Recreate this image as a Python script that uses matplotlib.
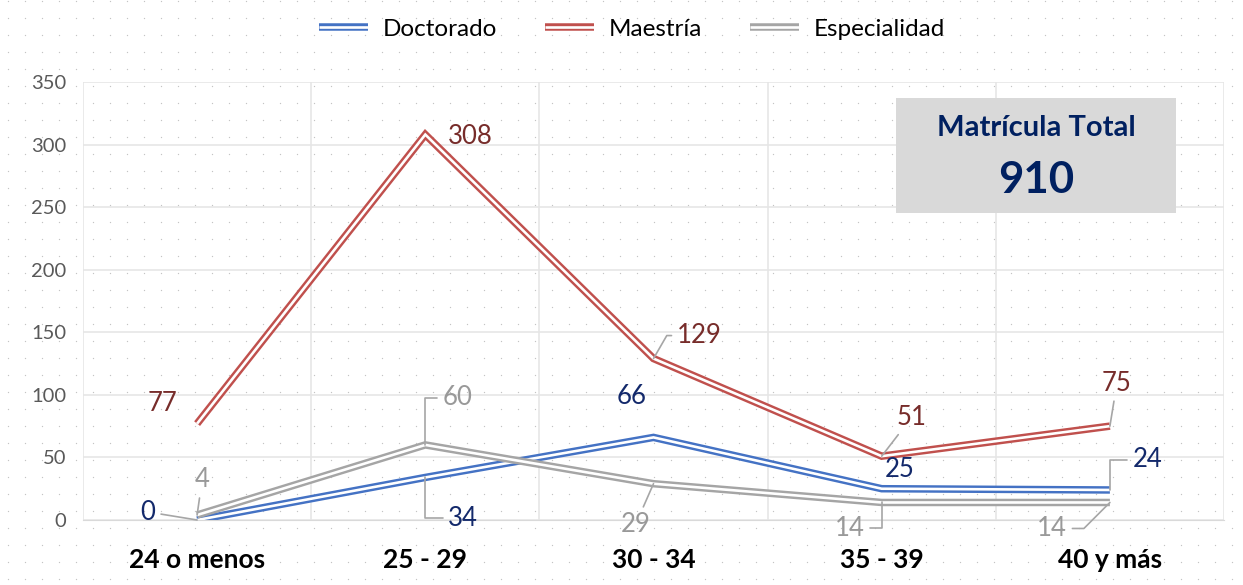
import numpy as np
import matplotlib.pyplot as plt
import matplotlib.patheffects as pe
from matplotlib.lines import Line2D

plt.rcParams['font.family'] = ['Lato', 'DejaVu Sans']

categorias = ['24 o menos', '25 - 29', '30 - 34', '35 - 39', '40 y más']
doctorado = [0, 34, 66, 25, 24]
maestria = [77, 308, 129, 51, 75]
especialidad = [4, 60, 29, 14, 14]
total = 910

# colores: linea, etiqueta
series = [
    ('Doctorado', doctorado, '#4472C4', '#13296B'),
    ('Maestría', maestria, '#C0504D', '#772C2A'),
    ('Especialidad', especialidad, '#A5A5A5', '#999999'),
]

# offsets de etiquetas en pixeles (dx, dy, leader, conexion)
offsets = {
    'Doctorado': [(-49, 8, True, 'arc3'), (38, -41, True, 'angle,angleA=0,angleB=90,rad=0'),
                  (-22, 41, False, None), (18, 19, False, None),
                  (38, 30, True, 'angle,angleA=0,angleB=90,rad=0')],
    'Maestría': [(-35, 20, False, None), (45, -2, False, None),
                 (46, 23, True, 'angle,angleA=0,angleB=60,rad=0'), (30, 39, True, 'arc3'),
                 (7, 43, True, 'arc3')],
    'Especialidad': [(5, 35, True, 'arc3'), (32, 47, True, 'angle,angleA=0,angleB=90,rad=0'),
                     (-18, -41, True, 'arc3'), (-32, -26, True, 'angle,angleA=0,angleB=90,rad=0'),
                     (-58, -26, True, 'angle,angleA=0,angleB=45,rad=0')],
}

fig = plt.figure(figsize=(12.43, 5.85), dpi=100)

# fondo punteado
bg = fig.add_axes([0, 0, 1, 1], zorder=-5)
gx, gy = np.meshgrid(np.arange(8, 1243, 17), np.arange(6, 585, 17))
bg.scatter(gx.ravel(), gy.ravel(), s=0.9, color='#C4C4C4', linewidths=0)
bg.set_xlim(0, 1243)
bg.set_ylim(0, 585)
bg.axis('off')

ax = fig.add_axes([83 / 1243, 65 / 585, 1141 / 1243, 438 / 585])
ax.set_facecolor('none')
x = np.arange(len(categorias))

def doble(c):
    return [pe.Stroke(linewidth=5.4, foreground=c, capstyle='butt'),
            pe.Stroke(linewidth=1.9, foreground='white', capstyle='butt')]

for nombre, vals, c, ct in series:
    ax.plot(x, vals, color=c, label=nombre, path_effects=doble(c), solid_joinstyle='miter')
    for i, v in enumerate(vals):
        dx, dy, lead, cs = offsets[nombre][i]
        props = None
        if lead:
            props = dict(arrowstyle='-', color='#A6A6A6', lw=1.2, shrinkA=2, shrinkB=0,
                         connectionstyle=cs)
        ax.annotate(str(v), xy=(i, v), xytext=(dx, dy), textcoords='offset pixels',
                    ha='center', va='center', fontsize=18.5, color=ct, arrowprops=props)

ax.set_xlim(-0.5, len(categorias) - 0.5)
ax.set_ylim(0, 350)
ax.set_yticks(np.arange(0, 351, 50))
ax.set_xticks(x)
ax.set_xticklabels(categorias, fontsize=19, fontweight='bold', color='black')
ax.set_xticks(np.arange(-0.5, len(categorias), 1), minor=True)
ax.grid(True, axis='y', color='#E6E6E6', lw=1.2)
ax.grid(True, axis='x', which='minor', color='#E6E6E6', lw=1.2)
ax.tick_params(axis='x', which='both', length=0, pad=20)
ax.tick_params(axis='y', length=0, labelsize=14.5, labelcolor='#595959', pad=12)
for s in ['top', 'right', 'left']:
    ax.spines[s].set_visible(False)
ax.spines['bottom'].set_color('#D9D9D9')
ax.set_axisbelow(True)

handles = [Line2D([0, 1], [0, 1], color=c, path_effects=doble(c)) for _, _, c, _ in series]
fig.legend(handles, [s[0] for s in series], loc='center', bbox_to_anchor=(632 / 1243, 1 - 29 / 585),
           ncol=3, frameon=False, fontsize=17.5, handlelength=2.0, columnspacing=2.0, handletextpad=0.6)

# recuadro de total
fig.patches.append(plt.Rectangle((896 / 1243, 1 - 213 / 585), 280 / 1243, 115 / 585,
                                 transform=fig.transFigure, facecolor='#D9D9D9', edgecolor='none', zorder=3))
fig.text(1036 / 1243, 1 - 128 / 585, 'Matrícula Total', ha='center', va='center', fontsize=21,
         fontweight='bold', color='#002060', zorder=4)
fig.text(1036 / 1243, 1 - 180 / 585, str(total), ha='center', va='center', fontsize=31.5,
         fontweight='bold', color='#002060', zorder=4)

fig.savefig('out.png', dpi=100)
